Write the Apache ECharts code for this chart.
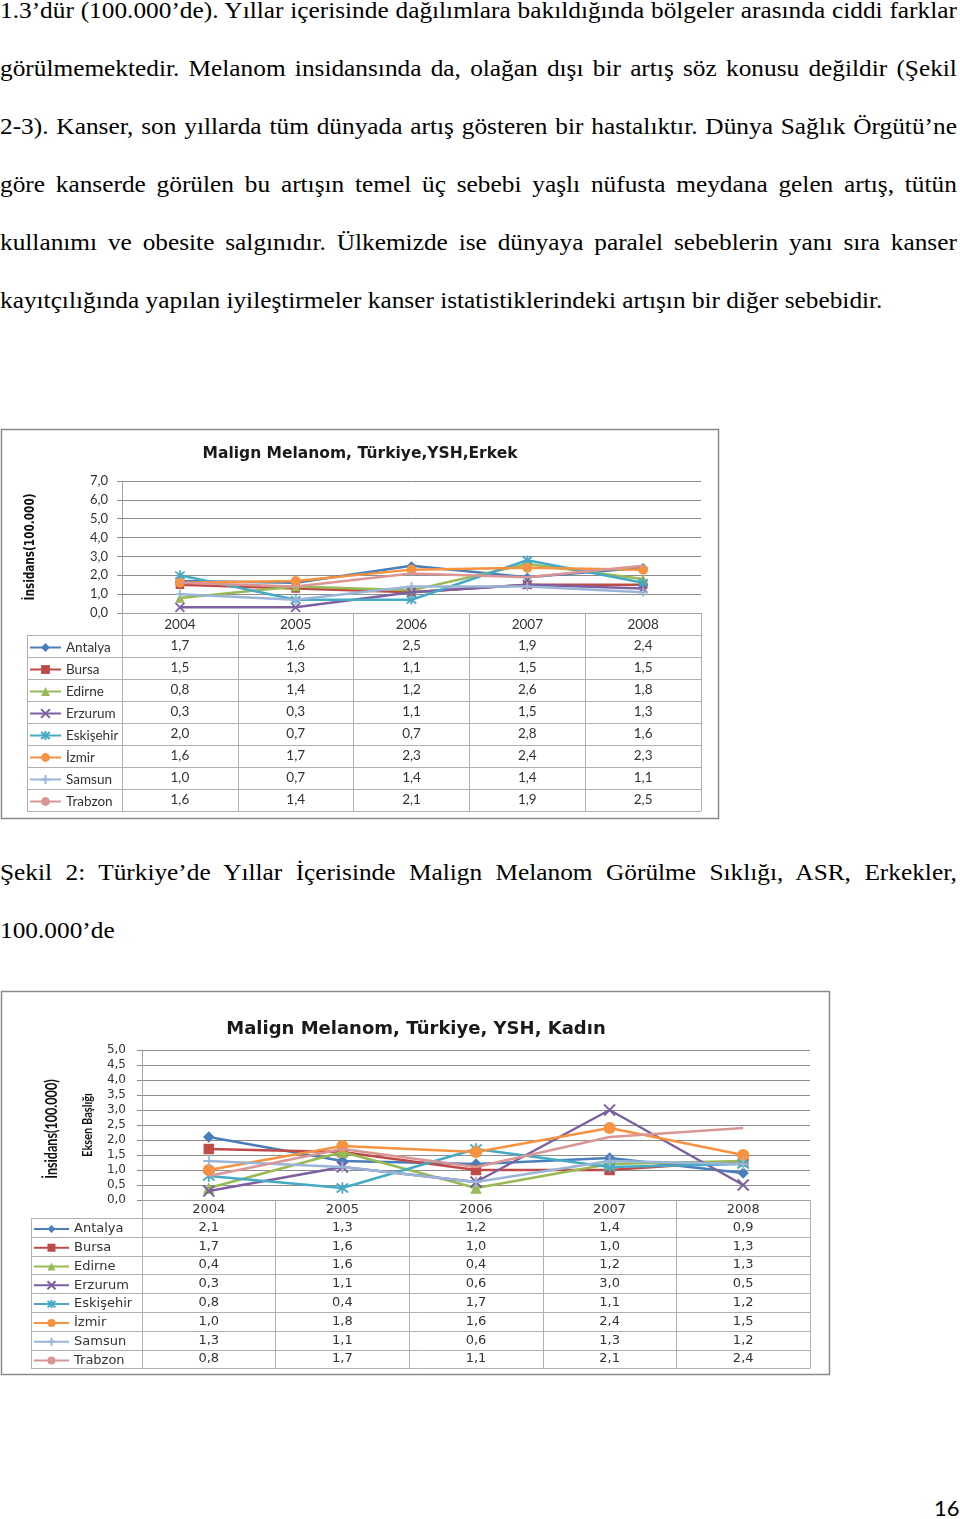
<!DOCTYPE html>
<html><head><meta charset="utf-8">
<script src="https://cdn.jsdelivr.net/npm/echarts@6/dist/echarts.min.js"></script>
<style>
html,body{margin:0;padding:0;background:#fff;}
body{width:960px;height:1519px;position:relative;overflow:hidden;}
.ln{position:absolute;left:0;width:907px;transform:scaleX(1.055);transform-origin:0 0;font-family:"Liberation Serif","Tinos","Times New Roman",serif;font-size:24px;line-height:30px;height:30px;color:#000;text-align:justify;text-align-last:justify;}
.last{text-align-last:left;}
#c1{position:absolute;left:0;top:428px;width:720px;height:392px;}
#c2{position:absolute;left:0;top:990px;width:832px;height:386px;}
#pn{position:absolute;left:934px;top:1494px;font-family:Lato,"Open Sans",sans-serif;font-size:22px;color:#000;}
</style></head>
<body>
<div class="ln" style="top:-5px">1.3’dür (100.000’de). Yıllar içerisinde dağılımlara bakıldığında bölgeler arasında ciddi farklar</div>
<div class="ln" style="top:53px">görülmemektedir.  Melanom  insidansında da, olağan dışı bir artış söz konusu değildir (Şekil</div>
<div class="ln" style="top:111px">2-3). Kanser, son yıllarda tüm dünyada artış gösteren bir hastalıktır. Dünya Sağlık Örgütü’ne</div>
<div class="ln" style="top:169px">göre kanserde görülen bu artışın temel üç sebebi yaşlı nüfusta meydana gelen artış, tütün</div>
<div class="ln" style="top:227px">kullanımı ve obesite salgınıdır. Ülkemizde ise dünyaya paralel sebeblerin yanı sıra kanser</div>
<div class="ln last" style="top:285px">kayıtçılığında yapılan iyileştirmeler kanser istatistiklerindeki artışın bir diğer sebebidir.</div>
<div id="c1"></div>
<div class="ln" style="top:857px">Şekil 2: Türkiye’de Yıllar İçerisinde Malign Melanom Görülme Sıklığı, ASR, Erkekler,</div>
<div class="ln last" style="top:915px">100.000’de</div>
<div id="c2"></div>
<div id="pn">16</div>
<script>
// ---- data ----
const years = ['2004', '2005', '2006', '2007', '2008'];
const regions = ['Antalya', 'Bursa', 'Edirne', 'Erzurum', 'Eskişehir', 'İzmir', 'Samsun', 'Trabzon'];

const erkekAntalya   = [1.7, 1.6, 2.5, 1.9, 2.4];
const erkekBursa     = [1.5, 1.3, 1.1, 1.5, 1.5];
const erkekEdirne    = [0.8, 1.4, 1.2, 2.6, 1.8];
const erkekErzurum   = [0.3, 0.3, 1.1, 1.5, 1.3];
const erkekEskisehir = [2.0, 0.7, 0.7, 2.8, 1.6];
const erkekIzmir     = [1.6, 1.7, 2.3, 2.4, 2.3];
const erkekSamsun    = [1.0, 0.7, 1.4, 1.4, 1.1];
const erkekTrabzon   = [1.6, 1.4, 2.1, 1.9, 2.5];

const kadinAntalya   = [2.1, 1.3, 1.2, 1.4, 0.9];
const kadinBursa     = [1.7, 1.6, 1.0, 1.0, 1.3];
const kadinEdirne    = [0.4, 1.6, 0.4, 1.2, 1.3];
const kadinErzurum   = [0.3, 1.1, 0.6, 3.0, 0.5];
const kadinEskisehir = [0.8, 0.4, 1.7, 1.1, 1.2];
const kadinIzmir     = [1.0, 1.8, 1.6, 2.4, 1.5];
const kadinSamsun    = [1.3, 1.1, 0.6, 1.3, 1.2];
const kadinTrabzon   = [0.8, 1.7, 1.1, 2.1, 2.4];

const erkekTitle = 'Malign Melanom, Türkiye,YSH,Erkek';
const kadinTitle = 'Malign Melanom, Türkiye, YSH, Kadın';
const yAxisTitle = 'İnsidans(100.000)';
const extraAxisTitle = 'Eksen Başlığı';

// ---- styles ----
const colors = ['#4A7EBB', '#BE4B48', '#98B954', '#7D60A0', '#46AAC5', '#F69240', '#9AB5D8', '#DA9694'];
const symbols = ['diamond', 'rect', 'triangle',
  'path://M0,0L10,10M10,0L0,10',
  'path://M0,0L10,10M10,0L0,10M5,-1.5L5,11.5',
  'circle',
  'path://M5,0L5,10M0,5L10,5',
  'none'];
const stroked = [false, false, false, true, true, false, true, false];
const symScale = [1.05, 0.95, 1.05, 1, 1.05, 1.1, 1, 1];

const fmt = v => v.toFixed(1).replace('.', ',');

function makeChart(el, cfg) {
  const chart = echarts.init(el, null, {renderer: 'canvas'});
  const series = regions.map((name, i) => ({
    name: name,
    type: 'line',
    data: cfg.values[i],
    symbol: symbols[i],
    symbolSize: cfg.sym * symScale[i],
    showSymbol: symbols[i] !== 'none',
    lineStyle: {color: colors[i], width: cfg.lw},
    itemStyle: {color: colors[i], borderColor: colors[i], borderWidth: stroked[i] ? 1.8 : 0},
    emphasis: {disabled: true},
    z: 3 + i
  }));
  const gridBottom = cfg.gridTop + cfg.gridH;
  const tableTop = gridBottom + cfg.headerH;
  const rows = regions.length;
  const legends = regions.map((r, i) => ({
    data: [r], orient: 'horizontal', left: cfg.legendLeft,
    top: tableTop + cfg.rowH * i + (cfg.rowH - cfg.itemH) / 2,
    itemWidth: cfg.itemW, itemHeight: cfg.itemH, padding: 0, selectedMode: false,
    textStyle: {fontSize: cfg.fs, color: '#333', fontFamily: cfg.font}
  }));
  chart.setOption({
    animation: false,
    textStyle: {fontFamily: cfg.font},
    title: {
      text: cfg.title, left: 'center', top: cfg.titleTop,
      textStyle: {fontSize: cfg.titleSize, fontWeight: 'bold', color: '#1a1a1a', fontFamily: cfg.titleFont}
    },
    grid: {left: cfg.gridLeft, top: cfg.gridTop, width: cfg.gridW, height: cfg.gridH},
    xAxis: {
      type: 'category', data: years, boundaryGap: true,
      axisLine: {lineStyle: {color: '#a0a0a0', width: 1}},
      axisTick: {show: true, length: cfg.headerH + cfg.rowH * rows, lineStyle: {color: '#b0b0b0'}},
      axisLabel: {margin: cfg.xLabelMargin, fontSize: cfg.fs, color: '#333', fontFamily: cfg.font},
      splitLine: {show: false}
    },
    yAxis: {
      type: 'value', min: 0, max: cfg.yMax, interval: cfg.yInterval,
      axisLine: {show: true, lineStyle: {color: '#a0a0a0'}},
      axisTick: {show: true, length: 5, lineStyle: {color: '#8c8c8c'}},
      axisLabel: {formatter: fmt, fontSize: cfg.yfs, color: '#333', margin: cfg.yLabelMargin, fontFamily: cfg.yFont},
      splitLine: {lineStyle: {color: '#8c8c8c', width: 1}}
    },
    legend: legends,
    series: series
  });

  const gridRight = cfg.gridLeft + cfg.gridW;
  const g = [];
  g.push({type: 'rect', shape: {x: cfg.frame[0], y: cfg.frame[1], width: cfg.frame[2], height: cfg.frame[3]},
    style: {fill: 'none', stroke: '#8a8a8a', lineWidth: 1.5}, silent: true, z: 0});
  for (let k = 0; k <= rows; k++) {
    const y = Math.round(tableTop + k * cfg.rowH) + 0.5;
    g.push({type: 'line', shape: {x1: cfg.tableLeft, y1: y, x2: gridRight, y2: y},
      style: {stroke: '#b0b0b0', lineWidth: 1}, silent: true});
  }
  g.push({type: 'line', shape: {x1: cfg.tableLeft + 0.5, y1: tableTop, x2: cfg.tableLeft + 0.5, y2: tableTop + cfg.rowH * rows},
    style: {stroke: '#b0b0b0', lineWidth: 1}, silent: true});
  regions.forEach((r, i) => {
    cfg.values[i].forEach((v, j) => {
      const x = chart.convertToPixel({xAxisIndex: 0}, j);
      g.push({type: 'text', x: x, y: tableTop + cfg.rowH * (i + 0.5),
        style: {text: fmt(v), fill: '#333', fontSize: cfg.fs, fontFamily: cfg.font, align: 'center', verticalAlign: 'middle'},
        silent: true});
    });
  });
  cfg.names.forEach(n => {
    g.push({type: 'text', x: n.x, y: n.y, rotation: Math.PI / 2, scaleX: n.sx,
      style: {text: n.text, fill: '#111', fontSize: n.size, fontWeight: 'bold',
        fontFamily: n.font, align: 'center', verticalAlign: 'middle'}, silent: true});
  });
  chart.setOption({graphic: g});
  return chart;
}

makeChart(document.getElementById('c1'), {
  values: [erkekAntalya, erkekBursa, erkekEdirne, erkekErzurum, erkekEskisehir, erkekIzmir, erkekSamsun, erkekTrabzon],
  title: erkekTitle, titleTop: 13, titleSize: 15.5, titleFont: 'DejaVu Sans',
  font: 'Lato', yFont: 'Lato', fs: 13.5, yfs: 13,
  gridLeft: 122, gridTop: 53, gridW: 579, gridH: 132,
  yMax: 7, yInterval: 1, headerH: 22, rowH: 22, itemH: 11, itemW: 31,
  xLabelMargin: 5, yLabelMargin: 14,
  tableLeft: 27, legendLeft: 29,
  names: [{text: yAxisTitle, x: 30, y: 119, size: 14, sx: 0.75, font: 'DejaVu Sans'}],
  sym: 9, lw: 2.5,
  frame: [1.5, 1.5, 717, 389]
});

makeChart(document.getElementById('c2'), {
  values: [kadinAntalya, kadinBursa, kadinEdirne, kadinErzurum, kadinEskisehir, kadinIzmir, kadinSamsun, kadinTrabzon],
  title: kadinTitle, titleTop: 25, titleSize: 18, titleFont: 'DejaVu Sans',
  font: 'DejaVu Sans', yFont: 'DejaVu Sans', fs: 13, yfs: 12,
  gridLeft: 142, gridTop: 60, gridW: 668, gridH: 150,
  yMax: 5, yInterval: 0.5, headerH: 18, rowH: 18.8, itemH: 10, itemW: 35,
  xLabelMargin: 3, yLabelMargin: 16,
  tableLeft: 31, legendLeft: 33,
  names: [{text: yAxisTitle, x: 52, y: 139, size: 17, sx: 0.74, font: 'Lato'},
          {text: extraAxisTitle, x: 88, y: 135, size: 13, sx: 0.85, font: 'Lato'}],
  sym: 11, lw: 2.5,
  frame: [1.5, 1.5, 828, 383]
});
</script>
</body></html>
